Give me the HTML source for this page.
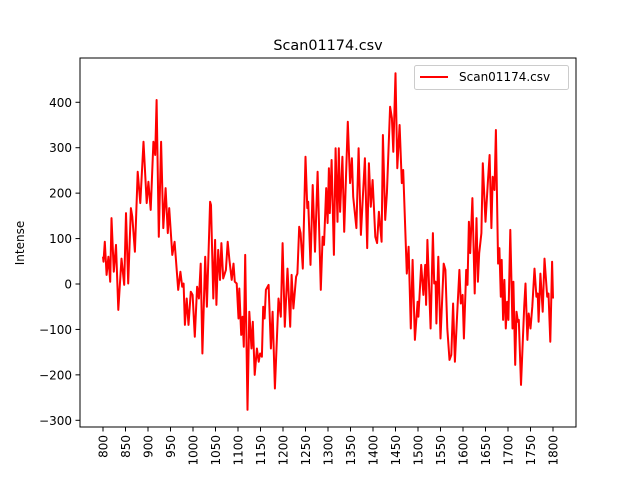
<!DOCTYPE html>
<html><head><meta charset="utf-8"><style>
html,body{margin:0;padding:0;background:#fff;}
svg{display:block;font-family:"DejaVu Sans","Liberation Sans",sans-serif;}
</style></head><body>
<svg id="chart" width="640" height="480" viewBox="0 0 640 480">
<rect width="640" height="480" fill="#fff"/>
<text x="328" y="50" font-size="14.4" text-anchor="middle">Scan01174.csv</text>
<text transform="translate(24,243) rotate(-90)" font-size="12" text-anchor="middle">Intense</text>
<text x="317" y="489" font-size="12" text-anchor="middle">W</text>
<g id="xticks"></g>
<g id="yticks"></g>
<polyline id="series" fill="none" stroke="#ff0000" stroke-width="2" stroke-linejoin="round"/>
<rect x="80" y="58" width="496" height="369" fill="none" stroke="#000" stroke-width="1"/>
<g>
<rect x="414.5" y="65.5" width="154" height="24" rx="2" fill="#fff" stroke="#ccc"/>
<line x1="420" y1="77" x2="448" y2="77" stroke="#ff0000" stroke-width="2"/>
<text x="459" y="81" font-size="12">Scan01174.csv</text>
</g>
</svg>
<script>
const xTickValues=[800,850,900,950,1000,1050,1100,1150,1200,1250,1300,1350,1400,1450,1500,1550,1600,1650,1700,1750,1800];
const yTickValues=[-300,-200,-100,0,100,200,300,400];
const wavenumbers=[800,801,804,808,812,816,819,824,829,834,841,847,851,856,862,865,871,877,883,890,897,901,906,912,916,919,924,929,934,939,944,947,954,959,967,972,976,979,982,986,990,995,999,1004,1009,1013,1017,1021,1027,1031,1038,1040,1045,1049,1052,1056,1060,1063,1067,1073,1077,1081,1086,1090,1093,1097,1101,1103,1107,1110,1113,1116,1121,1125,1130,1133,1137,1142,1146,1149,1153,1156,1159,1162,1168,1173,1177,1182,1190,1195,1199,1204,1210,1216,1219,1223,1229,1232,1236,1239,1244,1250,1254,1256,1261,1266,1271,1277,1284,1288,1291,1296,1299,1302,1304,1308,1313,1317,1321,1324,1327,1332,1336,1344,1349,1353,1356,1363,1368,1373,1377,1382,1387,1391,1395,1399,1402,1405,1409,1413,1419,1422,1427,1431,1438,1442,1445,1450,1454,1459,1464,1467,1475,1479,1484,1488,1493,1499,1501,1507,1512,1516,1518,1521,1528,1533,1536,1539,1541,1545,1550,1557,1561,1565,1570,1574,1578,1582,1587,1592,1595,1599,1602,1607,1610,1613,1616,1621,1626,1630,1633,1636,1641,1644,1650,1655,1659,1663,1666,1670,1673,1678,1681,1684,1686,1689,1692,1695,1698,1701,1705,1710,1712,1716,1719,1722,1724,1729,1736,1739,1743,1746,1750,1754,1759,1763,1766,1768,1772,1777,1781,1787,1790,1794,1798,1800];
const intensities=[60,49,93,20,60,5,145,27,86,-57,56,-2,156,1,167,148,71,247,178,313,178,225,163,313,284,405,104,313,123,211,112,167,64,93,-13,27,-6,1,-90,-32,-90,-17,-24,-116,-6,-32,45,-153,60,-50,181,174,-32,97,-46,75,9,90,12,31,93,53,9,45,5,1,-76,-10,-112,-72,-138,64,-277,-61,-142,-83,-200,-142,-171,-153,-160,-50,-76,-13,-2,-142,-61,-230,-32,-72,90,-94,34,-94,20,-54,16,23,126,112,34,280,167,181,42,218,71,247,-13,104,86,211,134,255,156,273,64,299,137,299,159,280,115,357,222,277,192,123,299,108,185,277,79,266,170,229,170,104,90,159,93,328,141,200,390,365,291,464,255,350,222,251,23,82,-98,53,-123,-39,-72,42,-24,42,-46,97,-98,112,1,5,-87,60,-120,45,31,-98,-167,-156,-43,-171,-65,31,-43,-24,-120,31,-2,137,68,189,-21,145,5,68,112,266,137,222,284,123,236,207,339,45,79,-28,53,-79,9,-98,-39,-79,119,-98,5,-178,-61,-83,-79,-222,-50,1,-123,-65,-98,-50,34,-28,-21,-83,23,-61,56,-28,-21,-127,49,-32];

const NS='http://www.w3.org/2000/svg';
function xScale(v){return 103+(v-800)*0.45;}
function yScale(v){return 284-v*0.4543;}
const xg=document.getElementById('xticks');
xTickValues.forEach(function(v){
  const x=xScale(v);
  const t=document.createElementNS(NS,'line');
  t.setAttribute('x1',x);t.setAttribute('x2',x);t.setAttribute('y1',427);t.setAttribute('y2',431.5);t.setAttribute('stroke','#000');
  
  
  xg.appendChild(t);
  const l=document.createElementNS(NS,'text');
  l.setAttribute('transform','translate('+(x+4.5)+',435) rotate(-90)');
  l.setAttribute('font-size','12');l.setAttribute('text-anchor','end');
  l.textContent=v;
  
  
  xg.appendChild(l);
});
const yg=document.getElementById('yticks');
yTickValues.forEach(function(v){
  const y=yScale(v);
  const t=document.createElementNS(NS,'line');
  t.setAttribute('x1',75.5);t.setAttribute('x2',80);t.setAttribute('y1',y);t.setAttribute('y2',y);t.setAttribute('stroke','#000');
  
  
  yg.appendChild(t);
  const l=document.createElementNS(NS,'text');
  l.setAttribute('x',72);l.setAttribute('y',y+4.5);
  l.setAttribute('font-size','12');l.setAttribute('text-anchor','end');
  l.textContent=(v<0?'\u2212'+(-v):v);
  
  
  yg.appendChild(l);
});
document.getElementById('series').setAttribute('points',
  wavenumbers.map(function(w,i){return xScale(w).toFixed(1)+','+yScale(intensities[i]).toFixed(1);}).join(' '));
</script>
</body></html>
